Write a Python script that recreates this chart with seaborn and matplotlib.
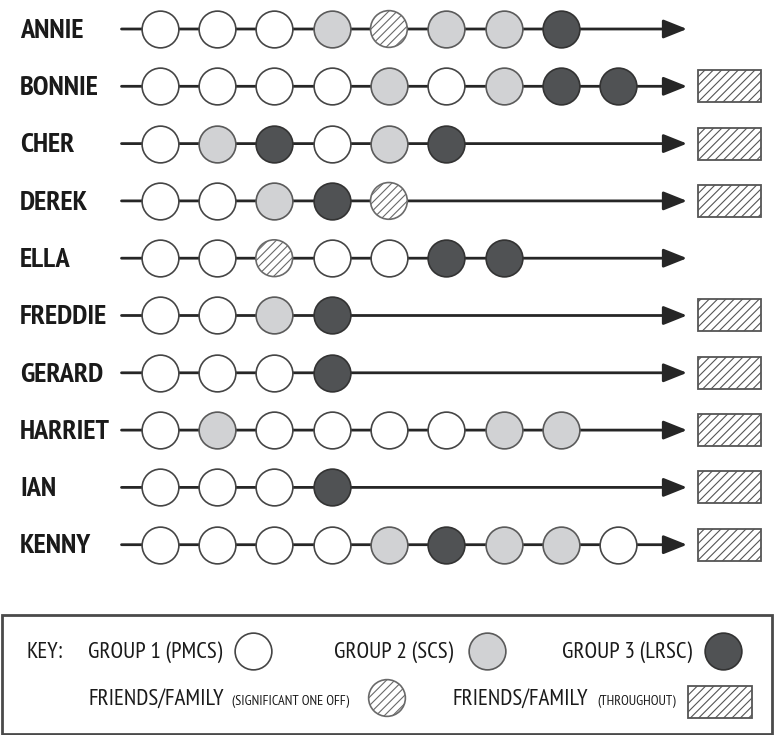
import matplotlib
matplotlib.use("Agg")
import matplotlib.pyplot as plt
from matplotlib import font_manager
from matplotlib.patches import Rectangle
import seaborn as sns
import pandas as pd

# ---------------- data ----------------
names = ["ANNIE", "BONNIE", "CHER", "DEREK", "ELLA",
         "FREDDIE", "GERARD", "HARRIET", "IAN", "KENNY"]
# G1 = Group 1 (PMCS), G2 = Group 2 (SCS), G3 = Group 3 (LRSC),
# FF = friends/family (significant one off)
annie   = ["G1", "G1", "G1", "G2", "FF", "G2", "G2", "G3"]
bonnie  = ["G1", "G1", "G1", "G1", "G2", "G1", "G2", "G3", "G3"]
cher    = ["G1", "G2", "G3", "G1", "G2", "G3"]
derek   = ["G1", "G1", "G2", "G3", "FF"]
ella    = ["G1", "G1", "FF", "G1", "G1", "G3", "G3"]
freddie = ["G1", "G1", "G2", "G3"]
gerard  = ["G1", "G1", "G1", "G3"]
harriet = ["G1", "G2", "G1", "G1", "G1", "G1", "G2", "G2"]
ian     = ["G1", "G1", "G1", "G3"]
kenny   = ["G1", "G1", "G1", "G1", "G2", "G3", "G2", "G2", "G1"]
journeys = [annie, bonnie, cher, derek, ella, freddie, gerard, harriet, ian, kenny]
# friends/family support throughout
throughout = [False, True, True, True, False, True, True, True, True, True]

key_labels = ["GROUP 1 (PMCS)", "GROUP 2 (SCS)", "GROUP 3 (LRSC)"]
ff_labels = [("FRIENDS/FAMILY", "(SIGNIFICANT ONE OFF)"),
             ("FRIENDS/FAMILY", "(THROUGHOUT)")]

# ---------------- style ----------------
sns.set_theme(style="white")


def wnum(w):
    return w if isinstance(w, (int, float)) else font_manager.weight_dict.get(w, 400)


def is_cond(f):
    return ("Narrow" in f.name or "Condensed" in f.name
            or f.stretch in ("condensed", "semi-condensed", "extra-condensed"))


families = {}
for f in font_manager.fontManager.ttflist:
    if is_cond(f) and f.style == "normal":
        families.setdefault((f.name, f.stretch), []).append(wnum(f.weight))

FAM, STRETCH, BOLD, REG = ["DejaVu Sans"], "normal", "bold", "normal"
if families:
    def score(item):
        (nm, st), ws = item
        has_bold = any(w >= 600 for w in ws)
        has_reg = any(380 <= w <= 520 for w in ws)
        return (0 if has_bold else 1, 0 if has_reg else 1,
                0 if "Narrow" in nm else 1)
    (nm, st), ws = sorted(families.items(), key=score)[0]
    FAM = [nm, "DejaVu Sans"]
    STRETCH = st
    BOLD = max(ws)
    BOLD = min([w for w in ws if w >= 600], default=BOLD)
    REG = min(ws, key=lambda w: abs(w - 500))
plt.rcParams["font.family"] = FAM
plt.rcParams["font.stretch"] = STRETCH
plt.rcParams["hatch.color"] = "#6a6a6a"
plt.rcParams["hatch.linewidth"] = 0.8

FILL = {"G1": "#ffffff", "G2": "#d1d2d4", "G3": "#505254", "FF": "#ffffff"}
EDGE = {"G1": "#454545", "G2": "#5a5a5a", "G3": "#333333", "FF": "#6a6a6a"}
LINE = "#262626"
INK = "#1a1a1a"

W, H = 775, 735
fig = plt.figure(figsize=(W / 100, H / 100), dpi=100)
fig.patch.set_facecolor("white")

# layout (pixel mapping of step/row units)
X0, DX = 159.5, 57.35
Y0, DY = 29.0, 57.3
ax = fig.add_axes([0, 0, 1, 1])
ax.set_xlim(-X0 / DX, (W - X0) / DX)
ax.set_ylim((H - Y0) / DY, -Y0 / DY)
ax.axis("off")

rows = []
for r, seq in enumerate(journeys):
    for s, g in enumerate(seq):
        rows.append({"name": names[r], "row": r, "step": s, "group": g})
df = pd.DataFrame(rows)

line_start = (121.5 - X0) / DX
arrow_tip = (687.0 - X0) / DX
name_texts = []
for r in range(len(names)):
    ax.annotate("", xy=(arrow_tip, r), xytext=(line_start, r),
                arrowprops=dict(arrowstyle="-|>,head_length=0.6,head_width=0.24",
                                color=LINE, lw=2.0, mutation_scale=24,
                                shrinkA=0, shrinkB=0), zorder=1)
    t = ax.text((20 - X0) / DX, r + 0.03, names[r], ha="left", va="center",
                fontsize=14, fontweight=BOLD, color=INK)
    name_texts.append(t)

S = 700
for g in ["G1", "G2", "G3", "FF"]:
    sub = df[df["group"] == g]
    kw = dict(hatch="////") if g == "FF" else {}
    sns.scatterplot(data=sub, x="step", y="row", s=S, color=FILL[g],
                    edgecolor=EDGE[g], linewidth=1.2, legend=False,
                    ax=ax, zorder=3, **kw)
ax.set_xlabel("")
ax.set_ylabel("")

rect_rows = [r for r, t in enumerate(throughout) if t]
ax.barh(rect_rows, width=(761 - 698) / DX, left=(698 - X0) / DX,
        height=32 / DY, color="white", edgecolor="#555555", linewidth=1.3,
        hatch="////", zorder=2)

# ---------------- key ----------------
lg = fig.add_axes([0, 0, 1, 1], zorder=5)
lg.set_xlim(0, W)
lg.set_ylim(H, 0)
lg.axis("off")
lg.patch.set_alpha(0)
lg.add_patch(Rectangle((2, 614.5), 770, 119, fill=False,
                       edgecolor="#4a4a4a", linewidth=2.0))
key_t = lg.text(26, 652, "KEY:", ha="left", va="center", fontsize=14,
                fontweight=REG, color=INK)
big_texts = [key_t]
key_text_x = [88, 334, 562]
key_circ_x = [253, 487, 723]
for lab, tx, cx, g in zip(key_labels, key_text_x, key_circ_x, ["G1", "G2", "G3"]):
    big_texts.append(lg.text(tx, 652, lab, ha="left", va="center", fontsize=14,
                             fontweight=REG, color=INK))
    lg.scatter([cx], [651], s=S, color=FILL[g], edgecolor=EDGE[g], linewidth=1.2)

big_texts.append(lg.text(88, 699, ff_labels[0][0], ha="left", va="center",
                         fontsize=14, fontweight=REG, color=INK))
small1 = lg.text(232, 701, ff_labels[0][1], ha="left", va="center", fontsize=8,
                 fontweight=REG, color=INK)
lg.scatter([387], [698], s=S, color="white", edgecolor=EDGE["FF"], linewidth=1.2,
           hatch="////")
big_texts.append(lg.text(453, 699, ff_labels[1][0], ha="left", va="center",
                         fontsize=14, fontweight=REG, color=INK))
small2 = lg.text(597, 701, ff_labels[1][1], ha="left", va="center", fontsize=8,
                 fontweight=REG, color=INK)
lg.add_patch(Rectangle((688, 686), 64, 32, facecolor="white", edgecolor="#555555",
                       linewidth=1.3, hatch="////"))

# fit font sizes to the widths of the lettering in the reference
fig.canvas.draw()
rend = fig.canvas.get_renderer()


def fit(texts, ref, target_px):
    w = ref.get_window_extent(rend).width
    size = ref.get_fontsize() * target_px / w
    for t in texts:
        t.set_fontsize(size)


fit(name_texts, name_texts[names.index("HARRIET")], 90)
fit(big_texts, big_texts[1], 134)
fit([small1, small2], small2, 80)

fig.savefig("out.png", dpi=100, facecolor="white")
